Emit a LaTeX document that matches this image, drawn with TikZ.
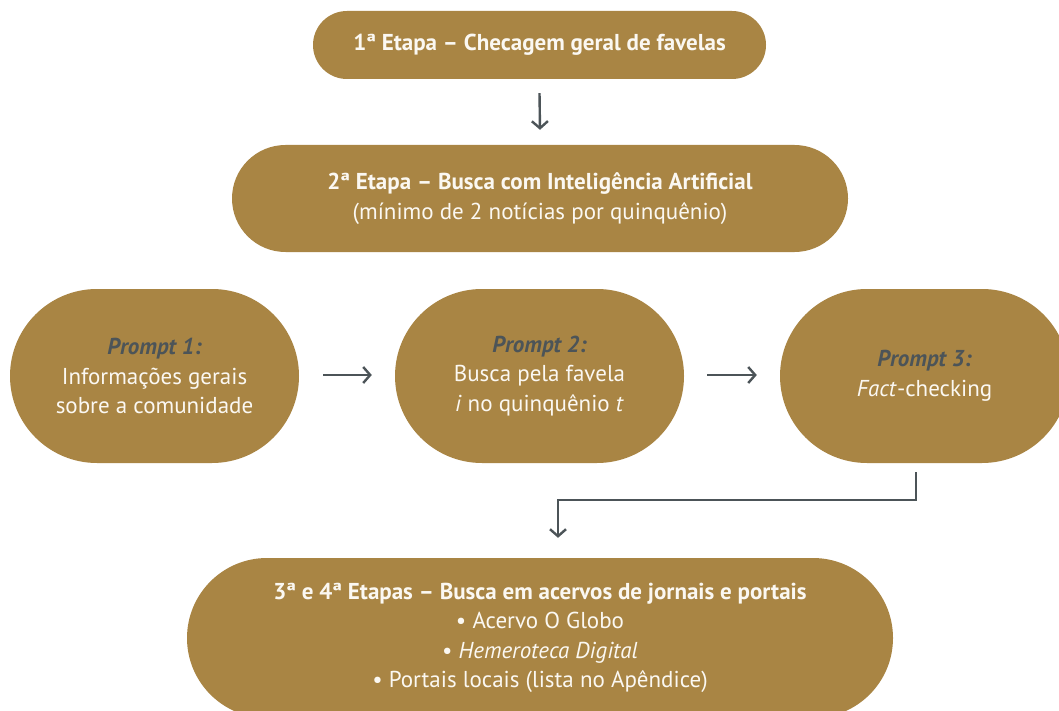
\documentclass[tikz,border=0pt]{standalone}
\usepackage{fontspec}
\setmainfont{PT Sans}
\usetikzlibrary{arrows.meta}
\definecolor{gold}{HTML}{A98544}
\definecolor{slate}{HTML}{4C5458}
\definecolor{offwhite}{HTML}{FBF8F2}
\tikzset{
  pill/.style={fill=gold, text=offwhite, align=center, inner sep=0pt,
    font=\fontsize{23}{29.5}\selectfont},
  conn/.style={draw=slate, line width=2.4pt, -{Straight Barb[length=7pt,width=16pt,line width=2.4pt]}},
}
\begin{document}
\begin{tikzpicture}[x=1pt,y=-1pt]
\useasboundingbox (0,0) rectangle (1059,711);
\clip (0,0) rectangle (1059,711);
\fill[white] (0,0) rectangle (1059,711);
\node[pill, minimum width=453pt, minimum height=68pt, rounded corners=34pt] (n1) at (539.5,45) {\bfseries 1ª Etapa – Checagem geral de favelas};
\node[pill, minimum width=616pt, minimum height=107pt, rounded corners=53.5pt] (n2) at (540,198.5) {\textbf{2ª Etapa – Busca com Inteligência Artificial}\\(mínimo de 2 notícias por quinquênio)};
\node[pill, minimum width=289pt, minimum height=174pt, rounded corners=87pt] (p1) at (154.5,376) {{\color{slate}\bfseries\itshape Prompt 1:}\\Informações gerais\\sobre a comunidade};
\node[pill, minimum width=289pt, minimum height=174pt, rounded corners=87pt] (p2) at (539.5,376) {{\color{slate}\bfseries\itshape Prompt 2:}\\Busca pela favela\\\textit{i} no quinquênio \textit{t}};
\node[pill, minimum width=289pt, minimum height=174pt, rounded corners=87pt] (p3) at (924.5,376) {{\color{slate}\bfseries\itshape Prompt 3:}\\\textit{Fact}-checking};
\node[pill, minimum width=706pt, minimum height=160pt, rounded corners=80pt] (n3) at (540,638) {\textbf{3ª e 4ª Etapas – Busca em acervos de jornais e portais}\\• Acervo O Globo\\• \textit{Hemeroteca Digital}\\• Portais locais (lista no Apêndice)};
\draw[conn] ([yshift=-14pt]n1.south) -- ([yshift=15pt]n2.north);
\draw[conn] ([xshift=24pt,yshift=1pt]p1.east) -- ([xshift=-23pt,yshift=1pt]p2.west);
\draw[conn] ([xshift=23pt,yshift=1pt]p2.east) -- ([xshift=-23pt,yshift=1pt]p3.west);
\coordinate (e1) at (916,472);
\coordinate (e2) at (916,500);
\coordinate (e3) at (558,500);
\draw[conn] (e1) -- (e2) -- (e3) -- ([yshift=20pt]n3.north -| e3);
\end{tikzpicture}
\end{document}
